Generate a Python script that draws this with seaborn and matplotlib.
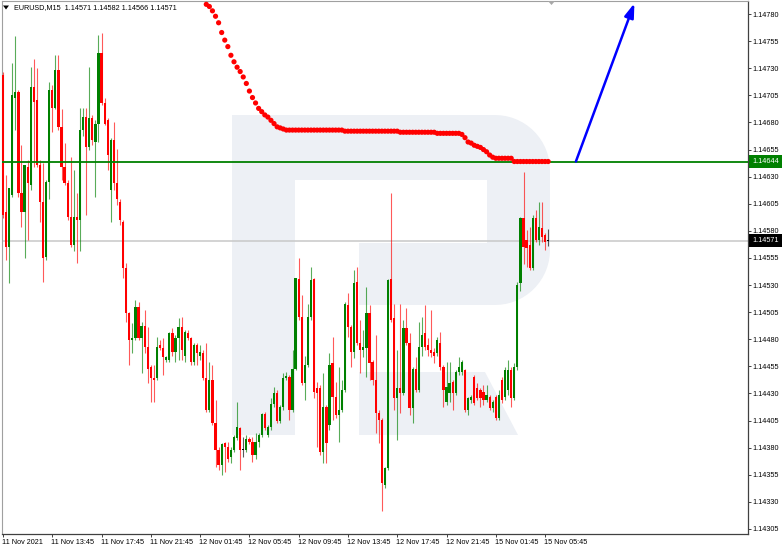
import numpy as np
import pandas as pd
import matplotlib
matplotlib.use("Agg")
import matplotlib.pyplot as plt
import matplotlib.transforms as mtransforms
from matplotlib.patches import Polygon, Rectangle
import seaborn as sns

# ---------------- data (prices = BASE + points / 1e5) ----------------
BASE = 1.14
symbol_title = "EURUSD,M15  1.14571 1.14582 1.14566 1.14571"

opens_pts = [
    724, 597, 565, 613, 703, 708, 615, 597, 639, 622,
    713, 701, 641, 607, 556, 625, 710, 693, 728, 676,
    639, 624, 593, 567, 593, 590, 673, 685, 657, 684,
    662, 679, 744, 698, 682, 618, 664, 624, 607, 588,
    546, 504, 479, 481, 510, 481, 492, 473, 454, 444,
    444, 475, 472, 461, 461, 486, 468, 481, 491, 465,
    486, 481, 459, 475, 465, 467, 444, 415, 442, 403,
    378, 364, 384, 381, 371, 378, 389, 398, 378, 378,
    388, 385, 373, 385, 392, 411, 392, 399, 420, 430,
    405, 418, 444, 445, 415, 453, 536, 501, 440, 456,
    501, 536, 435, 435, 376, 418, 401, 458, 427, 410,
    415, 433, 512, 491, 468, 533, 477, 470, 472, 504,
    459, 442, 412, 406, 346, 361, 536, 500, 426, 435,
    430, 490, 477, 417, 453, 433, 473, 486, 475, 470,
    468, 467, 477, 454, 422, 430, 441, 430, 450, 450,
    452, 415, 424, 445, 435, 433, 431, 424, 427, 417,
    427, 407, 442, 427, 433, 452, 426, 454, 532, 592,
    572, 567, 546, 592, 572, 583, 576, 571]

highs_pts = [
    727, 632, 620, 735, 760, 710, 659, 641, 645, 731,
    739, 730, 645, 643, 627, 717, 715, 742, 742, 692,
    661, 627, 648, 636, 615, 693, 693, 693, 731, 687,
    682, 761, 763, 703, 684, 666, 680, 656, 609, 590,
    550, 505, 495, 516, 514, 496, 507, 491, 456, 456,
    482, 479, 481, 465, 487, 490, 484, 500, 501, 489,
    489, 482, 477, 477, 475, 470, 477, 459, 456, 424,
    381, 384, 385, 385, 381, 392, 422, 399, 390, 392,
    390, 390, 394, 394, 412, 413, 401, 426, 436, 433,
    419, 449, 450, 447, 470, 537, 555, 521, 465, 513,
    547, 537, 441, 438, 449, 419, 467, 482, 441, 454,
    442, 514, 523, 493, 544, 547, 498, 489, 528, 512,
    461, 484, 415, 407, 362, 536, 615, 513, 470, 513,
    498, 509, 486, 454, 464, 496, 501, 512, 481, 507,
    472, 482, 487, 456, 459, 459, 442, 452, 464, 461,
    453, 427, 429, 447, 440, 435, 438, 438, 429, 424,
    429, 433, 445, 454, 461, 454, 458, 533, 593, 634,
    581, 584, 595, 599, 607, 607, 578, 582]

lows_pts = [
    592, 553, 532, 611, 673, 611, 584, 555, 572, 618,
    639, 639, 588, 533, 553, 609, 671, 692, 673, 627,
    622, 590, 565, 561, 550, 561, 668, 595, 655, 659,
    611, 662, 696, 678, 636, 588, 618, 604, 585, 537,
    496, 456, 467, 479, 479, 449, 467, 440, 422, 422,
    442, 470, 447, 459, 459, 465, 459, 461, 461, 459,
    479, 456, 456, 456, 461, 442, 413, 413, 401, 362,
    359, 355, 358, 367, 366, 376, 387, 359, 371, 376,
    383, 367, 370, 381, 390, 396, 390, 396, 418, 403,
    403, 415, 442, 406, 413, 452, 498, 438, 424, 454,
    498, 426, 381, 373, 366, 366, 396, 406, 407, 385,
    413, 431, 482, 454, 463, 475, 449, 464, 445, 442,
    438, 394, 384, 322, 343, 359, 496, 415, 387, 412,
    429, 475, 410, 403, 431, 431, 465, 470, 465, 464,
    458, 465, 452, 418, 419, 422, 415, 429, 447, 447,
    413, 410, 421, 419, 424, 418, 419, 422, 415, 413,
    406, 406, 421, 424, 429, 418, 424, 452, 525, 549,
    547, 544, 544, 570, 567, 570, 562, 566]

closes_pts = [
    595, 565, 620, 705, 708, 615, 597, 641, 624, 713,
    699, 641, 607, 555, 625, 710, 693, 728, 676, 639,
    624, 593, 567, 593, 590, 673, 685, 657, 684, 664,
    679, 744, 698, 679, 650, 664, 624, 609, 590, 546,
    504, 479, 481, 510, 481, 492, 473, 453, 444, 442,
    473, 472, 464, 464, 486, 468, 481, 491, 470, 487,
    481, 459, 475, 467, 468, 444, 415, 442, 403, 378,
    364, 383, 381, 370, 378, 390, 399, 378, 378, 388,
    385, 373, 385, 392, 411, 398, 399, 420, 430, 405,
    418, 444, 446, 415, 453, 537, 501, 440, 456, 501,
    535, 431, 430, 376, 418, 384, 456, 427, 410, 415,
    433, 513, 491, 468, 532, 477, 470, 473, 504, 458,
    442, 412, 406, 347, 361, 535, 498, 426, 435, 430,
    490, 477, 417, 453, 433, 473, 484, 473, 470, 467,
    465, 479, 454, 433, 436, 440, 430, 450, 454, 459,
    415, 426, 427, 421, 426, 426, 424, 429, 417, 422,
    407, 429, 424, 452, 452, 426, 454, 530, 592, 565,
    564, 546, 592, 572, 584, 574, 570, 571]

# red dotted indicator, starting at bar 66
dot_start_bar = 66
dot_pts = [
    789, 787, 783, 778, 772, 763, 756, 750, 742, 736,
    731, 727, 722, 716, 709, 703, 698, 693, 690, 687,
    685, 682, 679, 676, 675, 674, 673,
    673, 673, 673, 673, 673, 673, 673, 673, 673, 673,
    673, 673, 673, 673, 673, 673, 673, 673,
    672, 672, 672, 672, 672, 672, 672, 672, 672, 672,
    672, 672, 672, 672, 672, 672, 672, 672,
    671, 671, 671, 671, 671, 671, 671, 671, 671, 671, 671, 671,
    670, 670, 670, 670, 670, 670, 670, 670,
    669, 666, 662, 661, 659, 658, 657, 655, 653, 650, 648,
    647, 647, 647, 647, 647, 647,
    644, 644, 644, 644, 644, 644, 644, 644, 644, 644, 644, 644]

level_price = 1.14644
last_price = 1.14571
level_label = "1.14644"
last_label = "1.14571"

arrow_start = (186.0, 1.14644)   # (bar, price)
arrow_end = (205.0, 1.14790)

time_labels = ["11 Nov 2021", "11 Nov 13:45", "11 Nov 17:45", "11 Nov 21:45",
               "12 Nov 01:45", "12 Nov 05:45", "12 Nov 09:45", "12 Nov 13:45",
               "12 Nov 17:45", "12 Nov 21:45", "15 Nov 01:45", "15 Nov 05:45"]
time_tick_bars = [0, 16, 32, 48, 64, 80, 96, 112, 128, 144, 160, 176]
price_ticks = [1.14305, 1.14330, 1.14355, 1.14380, 1.14405, 1.14430, 1.14455,
               1.14480, 1.14505, 1.14530, 1.14555, 1.14580, 1.14605, 1.14630,
               1.14655, 1.14680, 1.14705, 1.14730, 1.14755, 1.14780]

# ---------------- figure ----------------
sns.set_theme(style="white")
plt.rcParams['font.family'] = ['Liberation Sans', 'DejaVu Sans']

W, H = 782, 552
fig = plt.figure(figsize=(W / 100, H / 100), dpi=100)
fig.patch.set_facecolor('white')

def fpx(x, y):
    return (x / W, 1 - y / H)

PL, PR, PT, PB = 1.5, 748, 1, 534
ax = fig.add_axes([PL / W, 1 - PB / H, (PR - PL) / W, (PB - PT) / H])
ax.set_facecolor('white')

SP, X0 = 3.08, 3.0
ax.set_xlim((PL - X0) / SP, (PR - X0) / SP)
def y_to_price(y):
    return 1.14793 - 9.225e-6 * y
ax.set_ylim(y_to_price(PB), y_to_price(PT))

# watermark logo (background)
wm_color = '#edf0f5'
def arc(cx, cy, r, kind, n=16):
    t = np.linspace(0, np.pi / 2, n)
    if kind == 'tr':
        return [(cx + r * np.sin(a), cy - r * np.cos(a)) for a in t]
    return [(cx + r * np.cos(a), cy + r * np.sin(a)) for a in t]
outer = [(232, 115), (495, 115)] + arc(495, 170, 55, 'tr') + [(550, 250)] + \
    arc(495, 250, 55, 'br') + [(359, 305), (359, 243), (487, 243), (487, 180),
                              (295, 180), (295, 435), (232, 435)]
leg = [(359, 372), (485, 372), (518, 435), (359, 435)]
for pts in (outer, leg):
    ax.add_patch(Polygon([fpx(x, y) for x, y in pts], closed=True,
                         facecolor=wm_color, edgecolor='none',
                         transform=fig.transFigure, zorder=0))

# candles
o = BASE + np.array(opens_pts) / 1e5
h = BASE + np.array(highs_pts) / 1e5
l = BASE + np.array(lows_pts) / 1e5
c = BASE + np.array(closes_pts) / 1e5
h = np.maximum(h, np.maximum(o, c))
l = np.minimum(l, np.minimum(o, c))
xb = np.arange(len(o))
colors = np.where(np.round(c - o, 6) > 0, '#008000',
                  np.where(np.round(c - o, 6) < 0, '#ff0000', '#000000'))

ax.axhline(last_price, color='#c8c8c8', lw=1.1, zorder=1)
ax.vlines(xb, l, h, colors=colors, lw=0.8, alpha=0.65, zorder=3)
ax.bar(xb, np.maximum(np.abs(c - o), 1.0e-5), bottom=np.minimum(o, c),
       width=0.72, color=colors, linewidth=0, zorder=4)

ax.axhline(level_price, color='#008000', lw=1.3, zorder=5)

dots = pd.DataFrame({'bar': np.arange(dot_start_bar, dot_start_bar + len(dot_pts)),
                     'price': BASE + np.array(dot_pts) / 1e5})
sns.scatterplot(data=dots, x='bar', y='price', ax=ax, color='#ff0000', s=14,
                edgecolor='none', linewidth=0, zorder=6, legend=False)

ax.annotate('', xy=arrow_end, xytext=arrow_start,
            arrowprops=dict(arrowstyle='-|>,head_length=0.6,head_width=0.2',
                            color='#0000ff', lw=1.8, mutation_scale=14,
                            shrinkA=0, shrinkB=0),
            annotation_clip=False, zorder=7)

# chart-shift marker at top
fig.add_artist(Polygon([fpx(548, 1), fpx(555, 1), fpx(551.5, 5)], closed=True,
                       facecolor='#a8a8a8', edgecolor='none',
                       transform=fig.transFigure))

# axes styling
for s in ('left', 'top'):
    ax.spines[s].set_color('#a0a0a0')
    ax.spines[s].set_linewidth(0.8)
for s in ('right', 'bottom'):
    ax.spines[s].set_color('#404040')
    ax.spines[s].set_linewidth(0.9)
ax.set_xlabel('')
ax.set_ylabel('')

ax.set_xticks(time_tick_bars)
ax.set_xticklabels(time_labels, fontsize=5.2, color='black')
ax.tick_params(axis='x', direction='out', length=2.5, width=0.7, color='#404040',
               pad=0.8, bottom=True)
offset = mtransforms.ScaledTranslation(-1 / 100, 0, fig.dpi_scale_trans)
for lab in ax.get_xticklabels():
    lab.set_horizontalalignment('left')
    lab.set_transform(lab.get_transform() + offset)

ax.yaxis.tick_right()
ax.set_yticks(price_ticks)
ax.set_yticklabels([f"{p:.5f}" for p in price_ticks], fontsize=5.2, color='black')
ax.tick_params(axis='y', direction='out', length=2.5, width=0.7, color='#404040',
               pad=1, right=True, left=False)

# price boxes on the right scale
def price_box(price, text, face):
    yc = 14 + (1.14780 - price) / 0.00025 * 27.1
    x0, y0 = fpx(749, yc + 6.3)
    fig.add_artist(Rectangle((x0, y0), 33 / W, 12.6 / H, facecolor=face,
                             edgecolor='none', transform=fig.transFigure))
    fig.text(752 / W, 1 - yc / H, text, fontsize=5.2, color='white',
             va='center', ha='left')
price_box(level_price, level_label, '#008000')
price_box(last_price, last_label, '#000000')

# title
fig.add_artist(Polygon([fpx(3, 5.5), fpx(9, 5.5), fpx(6, 9.5)], closed=True,
                       facecolor='black', edgecolor='none', transform=fig.transFigure))
fig.text(14 / W, 1 - 8 / H, symbol_title, fontsize=5.2, color='black',
         va='center', ha='left')

fig.savefig('out.png', dpi=100)
